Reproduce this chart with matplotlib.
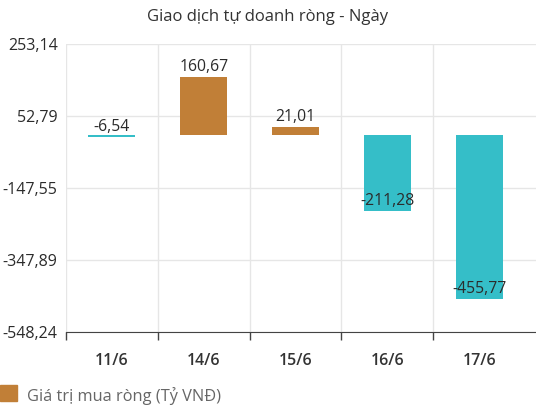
import numpy as np
import matplotlib.pyplot as plt
from matplotlib.patches import Rectangle

plt.rcParams['font.family'] = ['Open Sans', 'DejaVu Sans']

days = ['11/6', '14/6', '15/6', '16/6', '17/6']
values = [-6.54, 160.67, 21.01, -211.28, -455.77]
yticks = [253.14, 52.79, -147.55, -347.89, -548.24]
legend_label = 'Giá trị mua ròng (Tỷ VNĐ)'

orange = '#C17F37'
teal = '#35BEC8'

fig = plt.figure(figsize=(5.36, 4.13), dpi=100)
ax = fig.add_axes([66 / 536, 81 / 413, 470 / 536, 288 / 413])

x = np.arange(len(days))
colors = [orange if v >= 0 else teal for v in values]
ax.bar(x, values, width=0.51, color=colors, zorder=3)

for xi, v in zip(x, values):
    ax.annotate(f'{v:.2f}'.replace('.', ','), (xi, v), xytext=(0, 1.5),
                textcoords='offset points', ha='center', va='bottom',
                fontsize=11.3, color='#2b2b2b', zorder=4)

ax.set_xlim(-0.5, 4.5 + 11 / 92)
ax.set_ylim(yticks[-1], yticks[0])
ax.set_yticks(yticks)
ax.set_yticklabels([f'{t:.2f}'.replace('.', ',') for t in yticks])
ax.yaxis.grid(True, color='#e6e6e6', lw=1, zorder=0)

# category boundaries as vertical grid and tick marks
ax.set_xticks(np.arange(len(days)) - 0.5, minor=False)
ax.set_xticklabels([])
ax.xaxis.grid(True, color='#e6e6e6', lw=1, zorder=0)
ax.set_xticks(x, minor=True)
ax.set_xticklabels(days, minor=True, fontsize=11.5, color='#333333', fontweight='semibold')
ax.tick_params(axis='x', which='minor', length=0, pad=15)
ax.tick_params(axis='x', which='major', length=6, color='#444444', width=1)
ax.tick_params(axis='y', length=0, labelsize=11.5, labelcolor='#2b2b2b', pad=6)

for s in ['top', 'right', 'left']:
    ax.spines[s].set_visible(False)
ax.spines['bottom'].set_color('#444444')

fig.text(0.5, 1 - 17 / 413, 'Giao dịch tự doanh ròng - Ngày', ha='center', va='center',
         fontsize=12, color='#333333')

fig.patches.append(Rectangle((0, 1 - 401 / 413), 17 / 536, 16 / 413,
                             transform=fig.transFigure, color=orange))
fig.text(27 / 536, 1 - 396 / 413, legend_label, ha='left', va='center',
         fontsize=11.8, color='#666666')

fig.savefig('out.png', dpi=100)
